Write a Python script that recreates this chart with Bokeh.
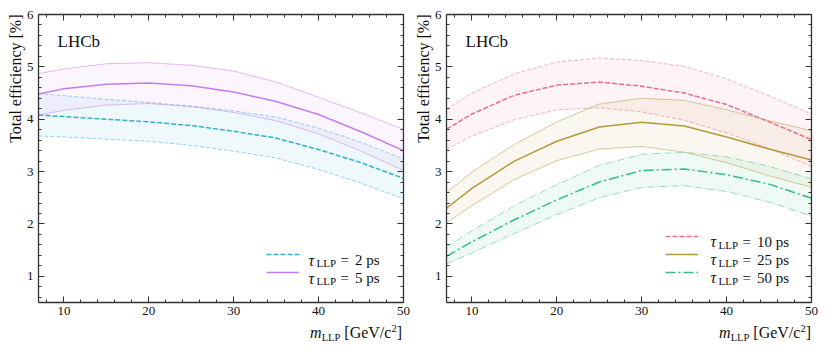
from bokeh.plotting import figure
from bokeh.layouts import row, column
from bokeh.models import (Label, Legend, LegendItem, LinearAxis, Title, Div,
                          SingleIntervalTicker, Range1d)
from bokeh.embed import file_html
from bokeh.resources import INLINE

FONT = "Liberation Serif"

# ---------------- data ----------------
mass = [7, 10, 15, 20, 25, 30, 35, 40, 45, 50]

# left panel
eff_2ps = [4.08, 4.05, 4.00, 3.95, 3.88, 3.77, 3.64, 3.42, 3.17, 2.87]
eff_2ps_hi = [4.49, 4.45, 4.38, 4.32, 4.25, 4.16, 4.04, 3.83, 3.56, 3.24]
eff_2ps_lo = [3.68, 3.66, 3.62, 3.58, 3.50, 3.39, 3.26, 3.04, 2.78, 2.48]
eff_5ps = [4.48, 4.58, 4.67, 4.69, 4.64, 4.52, 4.34, 4.09, 3.76, 3.40]
eff_5ps_hi = [4.87, 4.96, 5.06, 5.08, 5.03, 4.92, 4.71, 4.42, 4.12, 3.81]
eff_5ps_lo = [4.08, 4.17, 4.27, 4.30, 4.24, 4.13, 3.97, 3.72, 3.39, 3.02]

# right panel
eff_10ps = [3.81, 4.10, 4.46, 4.65, 4.71, 4.63, 4.50, 4.28, 3.95, 3.61]
eff_10ps_hi = [4.19, 4.50, 4.87, 5.09, 5.17, 5.12, 5.01, 4.77, 4.45, 4.10]
eff_10ps_lo = [3.42, 3.68, 3.99, 4.18, 4.22, 4.14, 3.98, 3.74, 3.44, 3.10]
eff_25ps = [2.30, 2.68, 3.20, 3.58, 3.85, 3.94, 3.87, 3.66, 3.43, 3.22]
eff_25ps_hi = [2.60, 2.99, 3.52, 3.95, 4.29, 4.40, 4.36, 4.18, 3.97, 3.78]
eff_25ps_lo = [2.02, 2.35, 2.85, 3.21, 3.43, 3.48, 3.37, 3.17, 2.92, 2.70]
eff_50ps = [1.38, 1.66, 2.08, 2.46, 2.80, 3.02, 3.05, 2.94, 2.76, 2.49]
eff_50ps_hi = [1.56, 1.87, 2.35, 2.75, 3.12, 3.33, 3.37, 3.28, 3.10, 2.86]
eff_50ps_lo = [1.24, 1.45, 1.82, 2.18, 2.50, 2.70, 2.73, 2.62, 2.42, 2.15]

left_labels = ["2 ps", "5 ps"]
right_labels = ["10 ps", "25 ps", "50 ps"]

Y_TITLE = "Total efficiency [%]"
X_RANGE = (7, 50)
Y_RANGE = (0.5, 6)

# ---------------- styles ----------------
FW, FH = 365, 288
C_CYAN = "#2fb2cc"
C_PURPLE = "#c77cf2"
C_PINK = "#f06b8e"
C_GOLD = "#b59a3c"
C_GREEN = "#30bf80"

DASH = ("5 2", "4 2")
SOLID = ("solid", "solid")
DASHDOT = ("10 3 2 3", "7 2 1 2")


def style_axis(ax, show_labels):
    ax.axis_line_color = "#333333"
    ax.axis_line_width = 1.3
    ax.major_tick_in = 6
    ax.major_tick_out = 0
    ax.minor_tick_in = 3
    ax.minor_tick_out = 0
    ax.major_tick_line_color = "#333333"
    ax.minor_tick_line_color = "#333333"
    ax.major_tick_line_width = 1
    ax.minor_tick_line_width = 1
    if show_labels:
        ax.major_label_text_font = FONT
        ax.major_label_text_font_size = "13px"
        ax.major_label_text_color = "#111111"
    else:
        ax.major_label_text_font_size = "1px"
        ax.major_label_text_color = None
        ax.major_label_standoff = 0


def lab(p, text, sx, sy, size="16px", style="normal", align="left",
        baseline="alphabetic"):
    # sx, sy: screen px relative to the frame's bottom-left corner
    p.add_layout(Label(x=sx, y=sy, x_units="screen", y_units="screen",
                       text=text, text_font=FONT, text_font_size=size,
                       text_font_style=style, text_align=align,
                       text_baseline=baseline, text_color="#111111"))


def make_fig(bl, br):
    p = figure(frame_width=FW, frame_height=FH,
               x_range=Range1d(*X_RANGE), y_range=Range1d(*Y_RANGE),
               output_backend="svg", toolbar_location=None,
               min_border_left=bl, min_border_right=br,
               min_border_top=14, min_border_bottom=21)
    p.outline_line_color = None
    p.xgrid.visible = False
    p.ygrid.visible = False
    xt = SingleIntervalTicker(interval=10, num_minor_ticks=5)
    yt = SingleIntervalTicker(interval=1, num_minor_ticks=5)
    p.xaxis.ticker = xt
    p.yaxis.ticker = yt
    style_axis(p.xaxis[0], True)
    style_axis(p.yaxis[0], True)
    p.xaxis[0].major_label_standoff = 4
    p.yaxis[0].major_label_standoff = 5
    top = LinearAxis(ticker=xt)
    right = LinearAxis(ticker=yt)
    style_axis(top, False)
    style_axis(right, False)
    p.add_layout(top, "above")
    p.add_layout(right, "right")
    # y axis title, aligned to the top end of the axis
    p.add_layout(Title(text=Y_TITLE, align="right", text_font=FONT,
                       text_font_size="16px", text_font_style="normal",
                       text_color="#111111", standoff=0, offset=0), "left")
    # LHCb tag
    lab(p, "LHCb", 19, 261, size="17px")
    return p


def x_title(width, pad_right):
    html = (
        f'<div style="width:{width - pad_right}px;text-align:right;'
        f'font-family:\'{FONT}\';font-size:16px;line-height:16px;'
        f'padding-top:2px;color:#111111;white-space:nowrap;">'
        '<i>m</i><span style="font-size:10.5px;position:relative;top:3px;">'
        'LLP</span> [GeV/c<span style="font-size:10.5px;position:relative;'
        'top:-6px;">2</span>]</div>'
    )
    return Div(text=html, width=width, height=22,
               styles={"margin": "0", "padding": "0"})


def band(p, y, lo, hi, color, dash):
    p.varea(x=mass, y1=lo, y2=hi, fill_color=color, fill_alpha=0.08)
    p.line(mass, hi, line_color=color, line_alpha=0.5, line_width=1,
           line_dash=dash[1])
    p.line(mass, lo, line_color=color, line_alpha=0.5, line_width=1,
           line_dash=dash[1])
    return p.line(mass, y, line_color=color, line_width=1.5,
                  line_dash=dash[0])


def add_legend(p, renderers, labels, x0, y0, tx):
    items = [LegendItem(label=" ", renderers=[r]) for r in renderers]
    leg = Legend(items=items, location=(x0, y0), glyph_width=33,
                 glyph_height=18, label_height=18, label_width=1,
                 spacing=0, padding=0, margin=0, label_standoff=0,
                 border_line_color=None, background_fill_color=None,
                 label_text_font_size="8px")
    p.add_layout(leg, "center")
    n = len(labels)
    for i, txt in enumerate(labels):
        yc = y0 + 18 * (n - i) - 9
        base = yc - 5.5
        t = x0 + tx
        lab(p, "τ", t, base, size="16px", style="italic")
        lab(p, "LLP", t + 8, base - 3, size="11px")
        lab(p, "=", t + 32, base, size="15px")
        lab(p, txt, t + 46.5, base, size="15px")


# ---------------- left panel ----------------
pl = make_fig(38, 8)
r2 = band(pl, eff_2ps, eff_2ps_lo, eff_2ps_hi, C_CYAN, DASH)
r5 = band(pl, eff_5ps, eff_5ps_lo, eff_5ps_hi, C_PURPLE, SOLID)
add_legend(pl, [r2, r5], left_labels, 228, 21, 42)

# ---------------- right panel ----------------
pr = make_fig(35, 10)
r10 = band(pr, eff_10ps, eff_10ps_lo, eff_10ps_hi, C_PINK, DASH)
r25 = band(pr, eff_25ps, eff_25ps_lo, eff_25ps_hi, C_GOLD, SOLID)
r50 = band(pr, eff_50ps, eff_50ps_lo, eff_50ps_hi, C_GREEN, DASHDOT)
add_legend(pr, [r10, r25, r50], right_labels, 219, 21.5, 45)

layout = column(row(pl, pr), row(x_title(411, 9), x_title(410, 10)))
open("out.html", "w").write(file_html(layout, INLINE))
